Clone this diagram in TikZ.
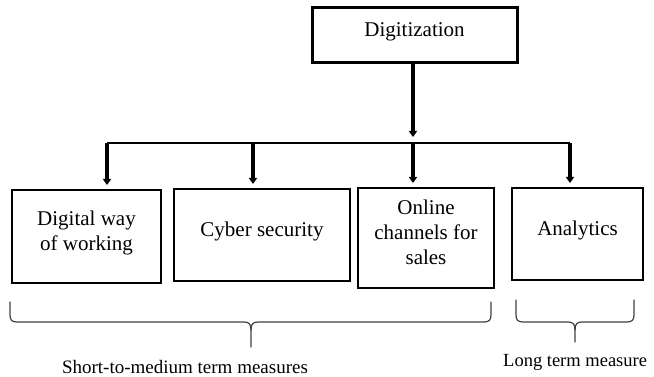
\documentclass[tikz,border=0pt]{standalone}
\usepackage{fontspec}
\setmainfont{Liberation Serif}
\usetikzlibrary{arrows.meta,calc}
% extra depth under the last line lifts box texts a little above centre
\newcommand\dropdepth{\rule[-12pt]{0pt}{12pt}}

\begin{document}
\begin{tikzpicture}[x=1pt,y=-1pt,
  box/.style={draw=black, line width=2pt, align=center, inner sep=0pt,
              font=\fontsize{21}{25}\selectfont},
  bus/.style={line width=2pt},
  feed/.style={line width=3.6pt, -{Triangle[width=8pt,length=6pt]}},
  brace/.style={line width=1.2pt, draw=black!75, line cap=round, line join=round},
  caption/.style={inner sep=0pt}]

  \useasboundingbox (0,0) rectangle (654,377);

  % root and measure boxes
  \node[box, line width=3pt, minimum width=205pt, minimum height=55pt] (dig) at (414.5,35.5) {Digitization\dropdepth};
  \node[box, minimum width=149pt, minimum height=93pt]  (b1) at (86.5,236.5) {Digital way\\of working\dropdepth};
  \node[box, minimum width=176pt, minimum height=92pt]  (b2) at (262,235)    {Cyber security\dropdepth};
  \node[box, minimum width=136pt, minimum height=100pt] (b3) at (426,238)    {Online\\channels for\\sales\dropdepth};
  \node[box, minimum width=131pt, minimum height=92pt]  (b4) at (577.5,234)  {Analytics\dropdepth};

  % distribution bus
  \coordinate (j1) at (107,143);
  \coordinate (j2) at (253,143);
  \coordinate (j3) at (413,143);
  \coordinate (j4) at (570,143);
  \coordinate (hub) at (413,137);
  \draw[bus] (j1) -- (j4);
  \draw[feed] (dig.south -| hub) -- (hub);
  \draw[feed, shorten >=4pt] (j1) -- (j1 |- b1.north);
  \draw[feed, shorten >=4pt] (j2) -- (j2 |- b2.north);
  \draw[feed, shorten >=4pt] (j3) -- (j3 |- b3.north);
  \draw[feed, shorten >=4pt] (j4) -- (j4 |- b4.north);

  % braces under the boxes
  \draw[brace] (10,302) -- (10,315) .. controls (10,320) and (12,322) .. (17,322)
    -- (244,322) .. controls (249,322) and (251,324) .. (251,330) -- (251,347);
  \draw[brace] (251,330) .. controls (251,324) and (253,322) .. (258,322)
    -- (484,322) .. controls (489,322) and (491,320) .. (491,315) -- (491,302);
  \draw[brace] (516,300) -- (516,315) .. controls (516,320) and (518,322) .. (523,322)
    -- (568,322) .. controls (573,322) and (575,324) .. (575,330) -- (575,342);
  \draw[brace] (575,330) .. controls (575,324) and (577,322) .. (582,322)
    -- (627,322) .. controls (632,322) and (634,320) .. (634,315) -- (634,300);

  % captions
  \node[caption, anchor=base, font=\fontsize{19}{22}\selectfont] (short) at (185,373) {Short-to-medium term measures};
  \node[caption, anchor=base west, font=\fontsize{18.5}{22}\selectfont] (long) at (503,366) {Long term measure};
\end{tikzpicture}
\end{document}
